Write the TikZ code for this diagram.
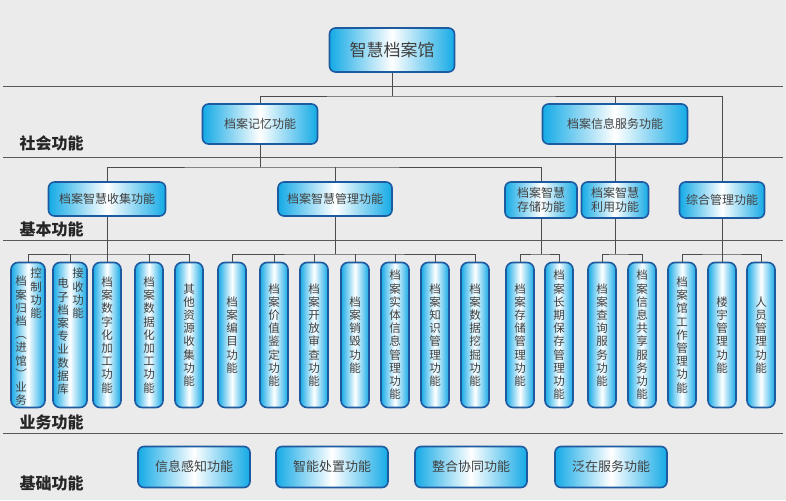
\documentclass[tikz,border=0pt]{standalone}
\usepackage{fontspec}
\setmainfont{Noto Sans CJK SC}
\definecolor{bord}{RGB}{30,90,160}
\definecolor{cy}{RGB}{20,170,230}
\begin{document}
\begin{tikzpicture}[x=1pt,y=-1pt,
 bx/.style={draw=bord,line width=1.6pt,rounded corners=6pt,left color=cy,right color=cy,middle color=white,inner sep=0pt,font=\fontsize{12}{14}\selectfont,text=black!75},
 vb/.style={bx,minimum width=28pt,minimum height=145pt,rounded corners=7pt,font=\fontsize{11.5}{13.2}\selectfont,align=center},
 vt/.style={font=\fontsize{11.5}{13.2}\selectfont,align=center,text=black!75,anchor=north,inner sep=0pt},
 sep/.style={draw=black!65,line width=1pt},
 ln/.style={draw=black!70,line width=0.9pt},
 lab/.style={font=\fontsize{16}{18}\selectfont\bfseries,text=black!85,anchor=west}]
\fill[black!8] (0,0) rectangle (786,500);
\useasboundingbox (0,0) rectangle (786,500);
\foreach \y in {87,157,240,433} \draw[sep] (3,\y) -- (783,\y);
\node[lab] (l1) at (16,143) {社会功能};
\node[lab] (l2) at (16,229) {基本功能};
\node[lab] (l3) at (16,422) {业务功能};
\node[lab] (l4) at (16,483) {基础功能};
% top
\node[bx,minimum width=125pt,minimum height=44pt,font=\fontsize{17}{19}\selectfont] (root) at (392,50) {智慧档案馆};
\node[bx,minimum width=115pt,minimum height=40pt] (mem) at (260,124) {档案记忆功能};
\node[bx,minimum width=145pt,minimum height=40pt] (svc) at (615,124) {档案信息服务功能};
\node[bx,minimum width=117pt,minimum height=34pt] (col) at (107,199) {档案智慧收集功能};
\node[bx,minimum width=114pt,minimum height=34pt] (mgt) at (335,199) {档案智慧管理功能};
\node[bx,minimum width=72pt,minimum height=36pt,align=center] (sto) at (541,200) {档案智慧\\存储功能};
\node[bx,minimum width=67pt,minimum height=36pt,align=center] (use) at (615,200) {档案智慧\\利用功能};
\node[bx,minimum width=85pt,minimum height=36pt] (gen) at (722,200) {综合管理功能};
\draw[ln] (root.south) -- (392,96) (mem.north) |- (392,96) -| (gen.north);
\draw[ln] (svc.north) -- (615,96);
\draw[ln] (mem.south) -- (260,167) (col.north) |- (260,167) -| (sto.north);
\draw[ln] (mgt.north) -- (335,167);
\draw[ln] (svc.south) -- (use.north);
% vertical boxes
\foreach \n/\x/\t in {
 c3/107/档\\案\\数\\字\\化\\加\\工\\功\\能,
 c4/149/档\\案\\数\\据\\化\\加\\工\\功\\能,
 c5/189/其\\他\\资\\源\\收\\集\\功\\能,
 m1/232/档\\案\\编\\目\\功\\能,
 m2/274/档\\案\\价\\值\\鉴\\定\\功\\能,
 m3/314/档\\案\\开\\放\\审\\查\\功\\能,
 m4/355/档\\案\\销\\毁\\功\\能,
 m5/395/档\\案\\实\\体\\信\\息\\管\\理\\功\\能,
 m6/435/档\\案\\知\\识\\管\\理\\功\\能,
 m7/475/档\\案\\数\\据\\挖\\掘\\功\\能,
 s1/520/档\\案\\存\\储\\管\\理\\功\\能,
 s2/559/档\\案\\长\\期\\保\\存\\管\\理\\功\\能,
 u1/602/档\\案\\查\\询\\服\\务\\功\\能,
 u2/642/档\\案\\信\\息\\共\\享\\服\\务\\功\\能,
 g1/682/档\\案\\馆\\工\\作\\管\\理\\功\\能,
 g2/722/楼\\宇\\管\\理\\功\\能,
 g3/761/人\\员\\管\\理\\功\\能}
 {\node[vb] (\n) at (\x,335) {\t};}
\node[vb,minimum width=34pt] (c1) at (28,335) {};
\node[vt] (c1a) at (21,276) {档\\案\\归\\档\\︵\\进\\馆\\︶\\业\\务};
\node[vt] (c1b) at (36,268) {控\\制\\功\\能};
\node[vb,minimum width=34pt] (c2) at (70,335) {};
\node[vt] (c2a) at (63,278) {电\\子\\档\\案\\专\\业\\数\\据\\库};
\node[vt] (c2b) at (78,268) {接\\收\\功\\能};
\draw[ln] (col.south) -- (107,254) (c1.north) |- (107,254) -| (c5.north);
\foreach \n in {c2,c3,c4} \draw[ln] (\n.north) -- (\n.north|-0,254);
\draw[ln] (mgt.south) -- (335,254) (m1.north) |- (335,254) -| (m7.north);
\foreach \n in {m2,m3,m4,m5,m6} \draw[ln] (\n.north) -- (\n.north|-0,254);
\draw[ln] (sto.south) -- (541,254) (s1.north) |- (541,254) -| (s2.north);
\draw[ln] (use.south) -- (615,254) (u1.north) |- (615,254) -| (u2.north);
\draw[ln] (gen.south) -- (722,254) (g1.north) |- (722,254) -| (g3.north);
\draw[ln] (g2.north) -- (722,254);
% bottom
\foreach \n/\x/\t in {b1/194/信息感知功能,b2/332/智能处置功能,b3/471/整合协同功能,b4/611/泛在服务功能}
 \node[bx,minimum width=112pt,minimum height=41pt,font=\fontsize{13}{15}\selectfont] (\n) at (\x,467) {\t};
\end{tikzpicture}
\end{document}
